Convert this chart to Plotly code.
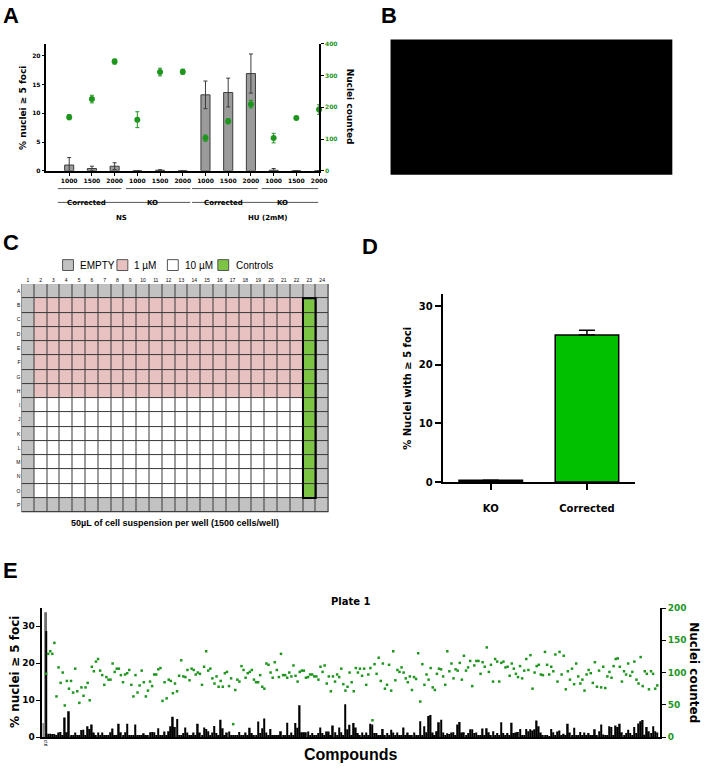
import plotly.graph_objects as go

W, H = 709, 769
def px(x): return x / W
def py(y): return 1 - y / H

GP = "DejaVu Sans"
AR = "Liberation Sans"
GREEN = "#1e961e"

# ---------------- Panel A data ----------------
a_ticklabels = ["1000", "1500", "2000"] * 4
a_foci = [1.0, 0.4, 0.8, 0.0, 0.1, 0.0, 13.2, 13.6, 16.9, 0.1, 0.0, 0.0]
a_foci_err = [1.3, 0.4, 0.6, 0.0, 0.1, 0.0, 2.4, 2.5, 3.4, 0.3, 0.0, 0.0]
a_nuclei = [169, 226, 344, 161, 311, 312, 103, 156, 210, 103, 166, 193]
a_nuclei_err = [8, 12, 8, 25, 12, 8, 10, 8, 12, 15, 3, 15]
a_cells = ["Corrected", "KO", "Corrected", "KO"]
a_treat = ["NS", "HU (2mM)"]

# ---------------- Panel C data ----------------
plate_cols = [str(i) for i in range(1, 25)]
plate_rows = list("ABCDEFGHIJKLMNOP")
plate_layout = [
    "EEEEEEEEEEEEEEEEEEEEEEEE",
    "ELLLLLLLLLLLLLLLLLLLLLCE",
    "ELLLLLLLLLLLLLLLLLLLLLCE",
    "ELLLLLLLLLLLLLLLLLLLLLCE",
    "ELLLLLLLLLLLLLLLLLLLLLCE",
    "ELLLLLLLLLLLLLLLLLLLLLCE",
    "ELLLLLLLLLLLLLLLLLLLLLCE",
    "ELLLLLLLLLLLLLLLLLLLLLCE",
    "EHHHHHHHHHHHHHHHHHHHHHCE",
    "EHHHHHHHHHHHHHHHHHHHHHCE",
    "EHHHHHHHHHHHHHHHHHHHHHCE",
    "EHHHHHHHHHHHHHHHHHHHHHCE",
    "EHHHHHHHHHHHHHHHHHHHHHCE",
    "EHHHHHHHHHHHHHHHHHHHHHCE",
    "EHHHHHHHHHHHHHHHHHHHHHCE",
    "EEEEEEEEEEEEEEEEEEEEEEEE",
]
plate_legend = ["EMPTY", "1 µM", "10 µM", "Controls"]
plate_colors = ["#c2c2c2", "#e8c1c1", "#ffffff", "#7cc443"]
plate_code = {"E": 0, "L": 1, "H": 2, "C": 3}

# ---------------- Panel D data ----------------
d_cats = ["KO", "Corrected"]
d_vals = [0.3, 25.1]
d_err = [0.0, 0.8]

# ---------------- Panel E data ----------------
e_ctrl_x = [-2, -1]
e_ctrl_low = [3.8, 0.0]
e_ctrl_high = [0.0, 33.8]
e_ctrl_mean = [0.0, 28.7]
e_ctrl_nuclei = [98]
e_foci = [
    0.9, 0.9, 0.8, 0.8, 0.5, 1.2, 1.4, 0.3, 5.3, 1.3,
    7.0, 0.3, 0.3, 1.2, 0.3, 0.3, 1.9, 2.0, 0.3, 2.9,
    2.2, 3.4, 1.2, 0.3, 1.2, 0.3, 1.2, 0.3, 0.3, 0.3,
    1.3, 2.3, 0.3, 0.3, 3.6, 1.3, 0.3, 1.3, 3.6, 0.3,
    0.3, 0.3, 3.4, 0.3, 0.3, 0.3, 1.0, 0.3, 0.3, 1.3,
    1.4, 1.3, 0.3, 2.4, 0.3, 0.3, 1.5, 0.3, 1.6, 2.9,
    5.5, 2.7, 4.9, 0.3, 0.3, 1.1, 2.6, 1.2, 0.3, 0.3,
    1.2, 0.3, 3.6, 1.2, 0.3, 2.6, 2.2, 1.6, 0.3, 1.2,
    3.0, 1.1, 0.3, 4.7, 2.4, 0.3, 1.2, 1.5, 0.3, 0.3,
    0.3, 0.3, 1.4, 0.3, 0.3, 1.2, 0.3, 2.5, 1.1, 0.3,
    0.3, 4.2, 1.1, 2.4, 5.0, 1.2, 0.3, 2.2, 0.5, 0.5,
    0.3, 0.3, 1.6, 0.3, 0.3, 3.9, 0.3, 1.2, 0.3, 3.8,
    2.5, 8.6, 1.3, 1.3, 1.3, 1.5, 0.3, 1.1, 0.3, 0.3,
    1.1, 2.6, 1.1, 0.3, 1.5, 1.5, 0.3, 3.1, 1.3, 0.3,
    2.6, 1.3, 0.3, 8.9, 2.1, 3.3, 0.3, 3.8, 2.6, 1.1,
    0.3, 1.2, 0.3, 1.2, 0.3, 3.6, 3.4, 1.1, 1.1, 0.3,
    0.3, 2.2, 0.3, 1.1, 0.3, 2.0, 1.2, 0.3, 1.2, 0.3,
    0.3, 2.6, 0.3, 1.2, 0.3, 0.3, 1.2, 0.3, 0.3, 4.3,
    0.3, 2.9, 1.3, 5.7, 6.0, 1.2, 0.3, 1.6, 4.0, 4.7,
    1.2, 0.3, 1.0, 0.8, 1.2, 1.3, 0.3, 3.4, 4.1, 1.2,
    1.3, 0.3, 1.1, 2.1, 2.1, 1.1, 1.2, 0.3, 0.3, 2.3,
    0.3, 2.4, 1.3, 0.3, 1.6, 0.3, 1.1, 0.3, 4.0, 1.1,
    0.3, 1.1, 0.3, 3.9, 1.1, 1.2, 1.4, 2.2, 0.3, 0.3,
    2.2, 1.6, 2.1, 1.8, 2.1, 4.5, 2.9, 1.2, 0.3, 0.5,
    0.3, 0.2, 2.2, 1.3, 0.3, 1.5, 1.8, 0.3, 0.9, 0.3,
    3.6, 1.2, 0.3, 2.5, 0.5, 0.3, 1.4, 0.3, 1.2, 0.3,
    1.1, 0.3, 0.3, 2.1, 0.3, 1.6, 3.4, 0.7, 0.3, 0.3,
    2.9, 2.7, 0.3, 3.1, 2.7, 3.6, 1.3, 0.3, 1.1, 2.0,
    1.1, 0.3, 2.7, 1.1, 3.7, 4.3, 4.6, 0.6, 2.7, 1.6,
    1.1, 2.9, 1.6, 1.2,
]
e_nuclei = [
    129, 133, 129, 146, 63, 108, 84, 100, 49, 87,
    75, 87, 69, 106, 71, 53, 77, 64, 77, 84,
    57, 109, 102, 117, 121, 103, 96, 81, 93, 89,
    89, 114, 101, 106, 106, 96, 85, 97, 99, 104,
    81, 63, 96, 69, 80, 103, 85, 63, 72, 86,
    79, 97, 97, 105, 107, 56, 85, 60,
    89, 87, 68, 83, 71, 95, 119, 94, 93, 104,
    88, 106, 104, 97, 100, 98, 81, 109, 133, 103,
    106, 91, 83, 94, 78, 87, 78, 99, 101, 79,
    91, 20, 73, 89, 86, 110, 104, 92, 99, 101,
    104, 89, 85, 85, 96, 78, 75, 114, 112, 100,
    92, 116, 104, 93, 129, 96, 96, 92, 100,
    94, 111, 95, 86, 101, 103, 103, 92, 93, 97,
    97, 94, 94, 89, 109, 101, 111, 83, 94, 71,
    94, 86, 97, 93, 106, 82, 72, 78, 100, 85,
    71, 107, 100, 106, 95, 106, 81, 97, 107, 26,
    113, 98, 123, 87, 114, 75, 81, 112, 72, 133,
    88, 104, 101, 108, 100, 91, 85, 94, 73, 93,
    90, 130, 55, 113, 81, 97, 89, 107, 77, 73,
    98, 106, 105, 94, 81, 133, 102, 114, 91, 105,
    103, 115, 89, 126, 103, 108, 118, 79, 111, 118,
    118, 98, 116, 109, 139, 101, 112, 86, 121, 117,
    86, 115, 117, 108, 109, 95, 114, 106, 98, 93,
    110, 91, 103, 121, 104, 127, 75, 100, 110,
    112, 97, 96, 132, 112, 97, 109, 102, 128, 86,
    132, 97, 126, 74, 102, 89, 106, 82, 114, 94,
    83, 89, 72, 97, 104, 99, 84, 116, 78, 103,
    77, 109, 76, 94, 101, 92, 110, 121, 122, 109,
    86, 102, 97, 114, 95, 101, 117, 89, 83, 124,
    79, 102, 98, 74, 102, 98, 75, 80,
]

fig = go.Figure()

# ---------------- Panel A traces ----------------
a_x = list(range(len(a_foci)))
fig.add_trace(go.Bar(
    x=a_x, y=a_foci, width=0.4, xaxis="x", yaxis="y",
    marker=dict(color="#9b9b9b", line=dict(color="#3c3c3c", width=1)),
    error_y=dict(type="data", array=a_foci_err, color="#3c3c3c", thickness=1, width=2),
    showlegend=False))
fig.add_trace(go.Scatter(
    x=a_x, y=a_nuclei, xaxis="x", yaxis="y2", mode="markers", cliponaxis=False,
    marker=dict(color=GREEN, size=6),
    error_y=dict(type="data", array=a_nuclei_err, color=GREEN, thickness=1, width=2),
    showlegend=False))

# ---------------- Panel C heatmap ----------------
z = [[plate_code[c] for c in row] for row in plate_layout]
cs = []
for i, col in enumerate(plate_colors):
    cs.append([i / 4, col])
    cs.append([(i + 1) / 4, col])
fig.add_trace(go.Heatmap(
    z=z, x=list(range(len(plate_cols))), y=list(range(len(plate_rows))),
    xaxis="x2", yaxis="y3", colorscale=cs, zmin=-0.5, zmax=3.5,
    showscale=False, xgap=1, ygap=1, hoverinfo="skip"))

# ---------------- Panel D ----------------
fig.add_trace(go.Bar(
    x=[0, 1], y=d_vals, width=0.66, xaxis="x3", yaxis="y4",
    marker=dict(color=["#111111", "#00c000"], line=dict(color="black", width=1.5)),
    error_y=dict(type="data", symmetric=False, array=d_err, arrayminus=[0, 0],
                 color="black", thickness=1.5, width=8),
    showlegend=False))

# ---------------- Panel E ----------------
fig.add_trace(go.Bar(x=e_ctrl_x, y=e_ctrl_high, width=0.9, xaxis="x4", yaxis="y5",
                     marker=dict(color="#6e6e6e", line=dict(width=0)), showlegend=False))
fig.add_trace(go.Bar(x=e_ctrl_x, y=e_ctrl_low, width=0.9, xaxis="x4", yaxis="y5",
                     marker=dict(color="#8a8a8a", line=dict(width=0)), showlegend=False))
fig.add_trace(go.Bar(x=e_ctrl_x, y=e_ctrl_mean, width=0.6, xaxis="x4", yaxis="y5",
                     marker=dict(color="black", line=dict(width=0)), showlegend=False))
fig.add_trace(go.Bar(x=list(range(len(e_foci))), y=e_foci, width=0.75, xaxis="x4", yaxis="y5",
                     marker=dict(color="black", line=dict(width=0)), showlegend=False))
fig.add_trace(go.Scatter(x=[-1], y=e_ctrl_nuclei, xaxis="x4", yaxis="y6", mode="markers",
                         marker=dict(color=GREEN, size=2.5, symbol="square"), showlegend=False))
fig.add_trace(go.Scatter(x=list(range(len(e_nuclei))), y=e_nuclei, xaxis="x4", yaxis="y6",
                         mode="markers", cliponaxis=False,
                         marker=dict(color=GREEN, size=2.5, symbol="square"), showlegend=False))

axis_common = dict(showgrid=False, zeroline=False, showline=True, linecolor="black",
                   ticks="outside", tickcolor="black")

shapes = []
annotations = []

def ann(x, y, text, size, family=AR, bold=True, color="black", angle=0, xanchor="center", yanchor="middle"):
    annotations.append(dict(
        x=px(x), y=py(y), xref="paper", yref="paper", text=text, showarrow=False,
        textangle=angle, xanchor=xanchor, yanchor=yanchor,
        font=dict(family=family, size=size, color=color, weight="bold" if bold else "normal")))

# Panel letters
ann(1, 11, "A", 22, xanchor="left")
ann(383, 11, "B", 22, xanchor="left")
ann(1, 241, "C", 22, xanchor="left")
ann(364, 245, "D", 22, xanchor="left")
ann(1, 573, "E", 22, xanchor="left")

# Panel A titles
ann(22.5, 104, "% nuclei ≥ 5 foci", 9, family=GP, angle=-90)
ann(354, 103, "Nuclei counted", 9, family=GP, angle=90)

# Panel A group lines/labels (in category units)
cell_spans = [(-0.5, 2.3), (2.5, 5.33), (5.41, 8.3), (8.47, 10.96)]
cell_label_x = [0.75, 3.65, 6.8, 9.4]
treat_spans = [(-0.5, 5.33), (5.41, 10.96)]
treat_label_x = [2.3, 8.75]
for (x0, x1), lx, name in zip(cell_spans, cell_label_x, a_cells):
    shapes.append(dict(type="line", xref="x", yref="paper", x0=x0, x1=x1,
                       y0=py(186), y1=py(186), line=dict(color="#555555", width=1)))
    annotations.append(dict(x=lx, y=py(194.3), xref="x", yref="paper", text=name,
                            showarrow=False, font=dict(family=GP, size=7, weight="bold", color="black")))
for (x0, x1), lx, name in zip(treat_spans, treat_label_x, a_treat):
    shapes.append(dict(type="line", xref="x", yref="paper", x0=x0, x1=x1,
                       y0=py(200), y1=py(200), line=dict(color="#555555", width=1)))
    annotations.append(dict(x=lx, y=py(210), xref="x", yref="paper", text=name,
                            showarrow=False, font=dict(family=GP, size=7, weight="bold", color="black")))

# Panel B black image placeholder
shapes.append(dict(type="rect", xref="paper", yref="paper", x0=px(395), x1=px(680),
                   y0=py(172), y1=py(35), fillcolor="black", line=dict(width=0)))

# Panel C grid background + control outline
shapes.append(dict(type="rect", xref="x2", yref="y3", x0=-0.5, x1=23.5, y0=-0.5, y1=15.5,
                   fillcolor="#3a3a3a", line=dict(color="#3a3a3a", width=1), layer="below"))
shapes.append(dict(type="rect", xref="x2", yref="y3", x0=21.5, x1=22.5, y0=0.5, y1=14.5,
                   fillcolor="rgba(0,0,0,0)", line=dict(color="black", width=2)))
# Panel C legend
leg_sq = [(63.3, 74.3), (118.3, 129.3), (169.3, 180.3), (220.3, 231.3)]
leg_tx = [79, 134, 185, 237]
for (x0, x1), col, tx, name in zip(leg_sq, plate_colors, leg_tx, plate_legend):
    shapes.append(dict(type="rect", xref="paper", yref="paper", x0=px(x0), x1=px(x1),
                       y0=py(269), y1=py(258), fillcolor=col, line=dict(color="#555555", width=1)))
    ann(tx, 263.5, name, 10, bold=False, xanchor="left")
ann(177, 525, "50µL of cell suspension per well (1500 cells/well)", 9)

# Panel D title
ann(412.5, 388, "% Nuclei with ≥ 5 foci", 10, family=GP, angle=-90)

# Panel E titles
ann(355, 604, "Plate 1", 10, family=GP)
ann(355, 759, "Compounds", 16)
ann(15, 676, "% nuclei ≥ 5 foci", 12, family=GP, angle=-90)
ann(702, 676, "Nuclei counted", 12, family=GP, angle=90)

fig.update_layout(
    width=W, height=H, margin=dict(l=0, r=0, t=0, b=0),
    paper_bgcolor="white", plot_bgcolor="white", barmode="overlay",
    font=dict(color="black"),
    showlegend=False, shapes=shapes, annotations=annotations,
    xaxis=dict(axis_common, domain=[px(47), px(322.7)], range=[-1, 11], anchor="y",
               tickvals=a_x, ticktext=a_ticklabels, ticklen=3, linewidth=1.5,
               tickfont=dict(family=GP, size=6, weight="bold", color="black")),
    yaxis=dict(axis_common, domain=[py(168), py(39.3)], range=[0, 22.07], anchor="x",
               tickvals=[0, 5, 10, 15, 20], ticklen=3, linewidth=1.5,
               tickfont=dict(family=GP, size=6, weight="bold", color="black")),
    yaxis2=dict(axis_common, overlaying="y", side="right", anchor="x", range=[0, 400],
                tickvals=[0, 100, 200, 300, 400], ticklen=3, linewidth=1.5,
                tickfont=dict(family=GP, size=6, weight="bold", color=GREEN)),
    xaxis2=dict(domain=[px(21.7), px(332.3)], range=[-0.5, 23.5], anchor="y3", side="top",
                tickvals=list(range(24)), ticktext=plate_cols, showgrid=False, zeroline=False,
                showline=False, ticks="", tickfont=dict(family=AR, size=5, color="black")),
    yaxis3=dict(domain=[py(514), py(282.7)], range=[15.5, -0.5], anchor="x2",
                tickvals=list(range(16)), ticktext=plate_rows, showgrid=False, zeroline=False,
                showline=False, ticks="", tickfont=dict(family=AR, size=5, color="black")),
    xaxis3=dict(axis_common, domain=[px(447.7), px(642.3)], range=[-0.5, 1.5], anchor="y4",
                tickvals=[0, 1], ticktext=d_cats, ticklen=6, linewidth=2, tickwidth=1.5,
                ticklabelstandoff=10, tickfont=dict(family=GP, size=10, weight="bold", color="black")),
    yaxis4=dict(axis_common, domain=[py(483.3), py(292.7)], range=[0, 32.1], anchor="x3",
                tickvals=[0, 10, 20, 30], ticklen=6, linewidth=2, tickwidth=1.5,
                tickfont=dict(family=GP, size=10, weight="bold", color="black")),
    xaxis4=dict(axis_common, domain=[px(42.7), px(667.7)], range=[-2.86, 294.4], anchor="y5",
                tickvals=[-1], ticktext=["ctrl"], ticks="", linewidth=1.5, tickangle=90,
                tickfont=dict(family=AR, size=5, color="black")),
    yaxis5=dict(axis_common, domain=[py(741.7), py(611)], range=[0, 34.95], anchor="x4",
                tickvals=[0, 10, 20, 30], ticklen=4, linewidth=1.5,
                tickfont=dict(family=GP, size=9, weight="bold", color="black")),
    yaxis6=dict(axis_common, overlaying="y5", side="right", anchor="x4", range=[0, 200],
                tickvals=[0, 50, 100, 150, 200], ticklen=4, linewidth=1.5,
                tickfont=dict(family=GP, size=9, weight="bold", color=GREEN)),
)

fig.write_html("out.html", config={"displayModeBar": False},
               post_script="document.body.style.margin='0px';document.body.style.overflow='hidden';")
